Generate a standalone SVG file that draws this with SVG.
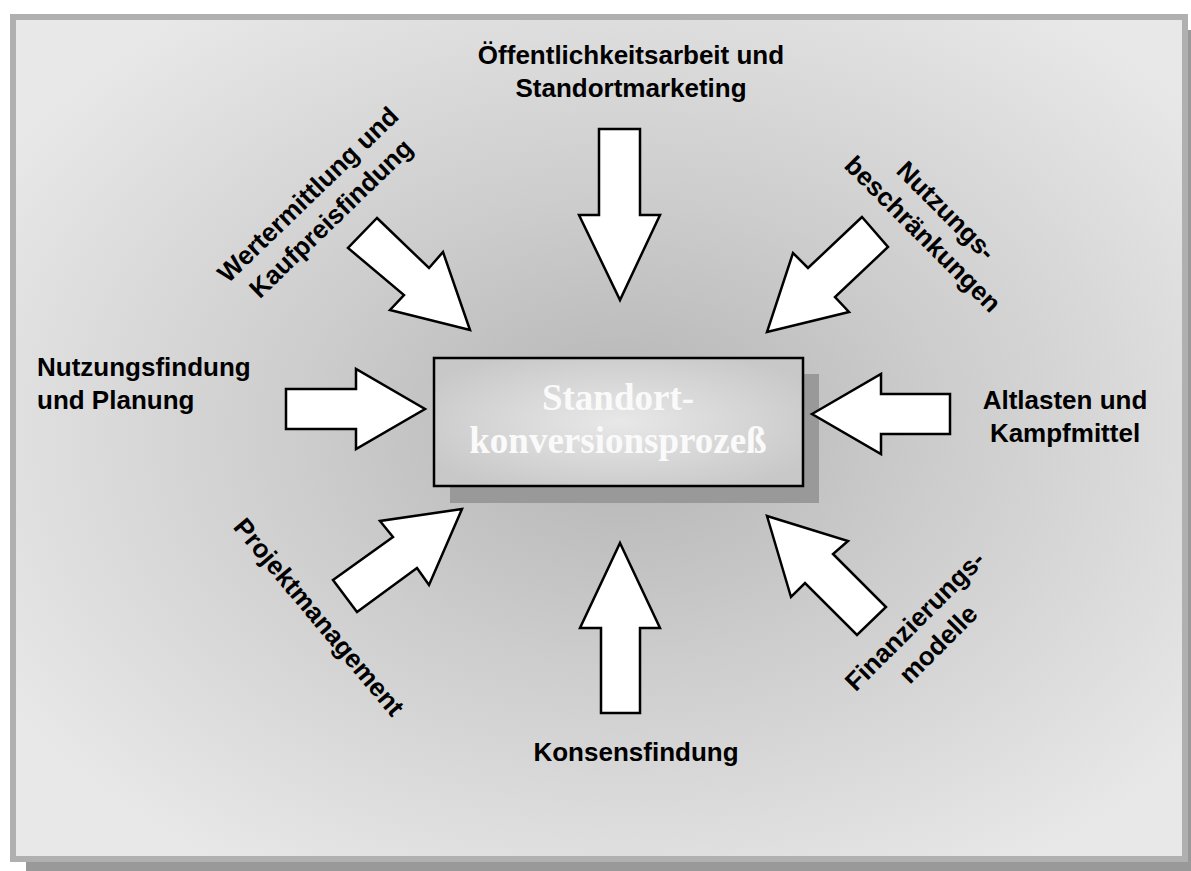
<svg xmlns="http://www.w3.org/2000/svg" width="1191" height="871" viewBox="0 0 1191 871">
  <defs>
    <radialGradient id="bg" cx="0.52" cy="0.49" r="0.62">
      <stop offset="0" stop-color="#b4b4b4"/>
      <stop offset="0.45" stop-color="#cdcdcd"/>
      <stop offset="1" stop-color="#e8e8e8"/>
    </radialGradient>
    <radialGradient id="boxfill" cx="0.5" cy="0.5" r="0.6">
      <stop offset="0" stop-color="#e8e8e8"/>
      <stop offset="1" stop-color="#c8c8c8"/>
    </radialGradient>
    <style>
      .lbl { font-family: "Liberation Sans", Arial, sans-serif; font-weight: bold; font-size: 26px; fill: #000; }
      .mid { text-anchor: middle; }
      .arrow { fill: #fff; stroke: #000; stroke-width: 2.5; stroke-linejoin: miter; }
      .title { font-family: "Liberation Serif", "Times New Roman", serif; font-weight: bold; font-size: 37px; fill: #fafafa; text-anchor: middle; }
    </style>
  </defs>

  <g id="frame">
    <rect x="26" y="30" width="1178" height="848" fill="#999"/>
    <rect x="13" y="17" width="1172" height="842" fill="url(#bg)" stroke="#b0b0b0" stroke-width="6"/>
  </g>

  <g id="center">
    <rect x="450" y="374" width="369" height="129" fill="#999"/>
    <rect x="434" y="358" width="369" height="128" fill="url(#boxfill)" stroke="#000" stroke-width="2.5"/>
    <text class="title" x="618" y="410">Standort-</text>
    <text class="title" x="618" y="453">konversionsprozeß</text>
  </g>

  <g id="connectors">
    <polygon class="arrow" points="599,129 640,129 640,215 660,215 620,300 579,215 599,215"/>
    <polygon class="arrow" points="620,543 660,628 640,628 640,713 601,713 601,628 580,628"/>
    <polygon class="arrow" points="286,389 356,389 356,369 425,409 356,449 356,429 286,429"/>
    <polygon class="arrow" points="812,414 881,374 881,394 950,394 950,434 881,434 881,454"/>
    <polygon class="arrow" points="377,218 429,268 443,252 470,330 390,310 404,295 348,248"/>
    <polygon class="arrow" points="862,217 808,268 793,253 767,332 849,312 835,297 888,247"/>
    <polygon class="arrow" points="462,509 380,521 393,537 333,580 357,612 417,568 429,585"/>
    <polygon class="arrow" points="767,516 848,541 833,554 886,607 857,635 805,583 791,597"/>
  </g>

  <g id="label-oeffentlichkeit">
    <text class="lbl mid" x="631" y="64">Öffentlichkeitsarbeit und</text>
    <text class="lbl mid" x="631" y="97">Standortmarketing</text>
  </g>
  <g id="label-nutzungsfindung">
    <text class="lbl" x="37" y="376">Nutzungsfindung</text>
    <text class="lbl" x="37" y="409">und Planung</text>
  </g>
  <g id="label-altlasten">
    <text class="lbl mid" x="1065" y="409">Altlasten und</text>
    <text class="lbl mid" x="1065" y="442">Kampfmittel</text>
  </g>
  <g id="label-konsens">
    <text class="lbl mid" x="636" y="761">Konsensfindung</text>
  </g>
  <g id="label-wertermittlung" transform="translate(319,206) rotate(-44)">
    <text class="lbl mid" x="0" y="-7">Wertermittlung und</text>
    <text class="lbl mid" x="0" y="26">Kaufpreisfindung</text>
  </g>
  <g id="label-nutzungsbeschraenkungen" transform="translate(935,222) rotate(45)">
    <text class="lbl mid" x="0" y="-7">Nutzungs-</text>
    <text class="lbl mid" x="0" y="26">beschränkungen</text>
  </g>
  <g id="label-projektmanagement" transform="translate(319,617) rotate(50)">
    <text class="lbl mid" x="0" y="9">Projektmanagement</text>
  </g>
  <g id="label-finanzierung" transform="translate(926,632) rotate(-45)">
    <text class="lbl mid" x="0" y="-7">Finanzierungs-</text>
    <text class="lbl mid" x="0" y="26">modelle</text>
  </g>
</svg>
